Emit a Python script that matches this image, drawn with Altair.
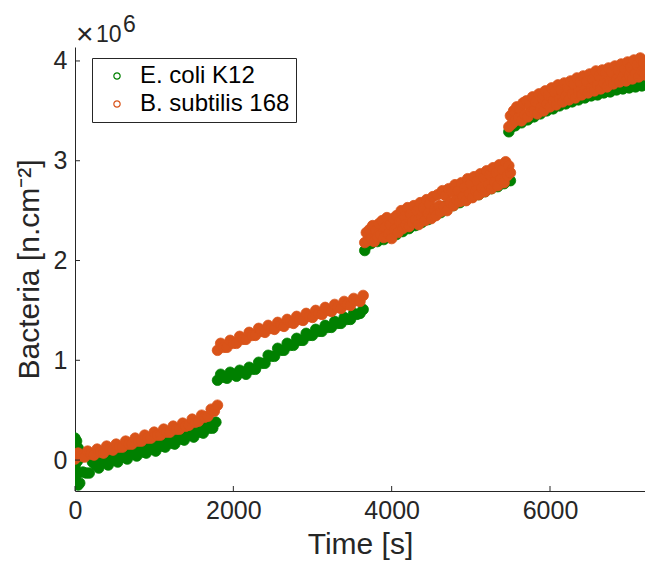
import altair as alt
import pandas as pd

# ---------------- data (values in units of 1e6 bacteria / cm^2) ----------------
SERIES = ["E. coli K12", "B. subtilis 168"]
COLORS = ["#008000", "#D95319"]

X_TICKS = [0, 2000, 4000, 6000]
Y_TICKS = [0, 1, 2, 3, 4]
X_DOMAIN = [0, 7200]
Y_DOMAIN = [-0.31, 4.14]

# E. coli: initial vertical spike near t = 0
ECOLI_SPIKE_T = [0, 0, 0, 0, 0, 20, 20, 20, 20, 20, 40, 40, 40, 40]
ECOLI_SPIKE_V = [0.22, 0.13, 0.04, -0.06, -0.15, 0.19, 0.09, -0.02, -0.12, -0.22, 0.12, 0.00, -0.13, -0.25]

# each segment: (start time [s], sampling step [s], values)
ECOLI_SEGMENTS = [
    (60, 40, [-0.23, -0.12, -0.13, -0.13, -0.02, -0.05, -0.08, 0.02, -0.02, -0.05,
              0.04, 0.00, -0.02, 0.07, 0.03, 0.01, 0.10, 0.06, 0.04, 0.12,
              0.08, 0.07, 0.15, 0.11, 0.09, 0.18, 0.14, 0.13, 0.21, 0.17,
              0.16, 0.25, 0.21, 0.20, 0.28, 0.25, 0.23, 0.32, 0.28, 0.27,
              0.36, 0.32, 0.32, 0.38]),
    (1800, 40, [0.80, 0.86, 0.83, 0.82, 0.88, 0.86, 0.84, 0.90, 0.88, 0.86,
                0.93, 0.91, 0.91, 0.98, 0.97, 0.97, 1.05, 1.04, 1.04, 1.12,
                1.10, 1.10, 1.17, 1.15, 1.15, 1.22, 1.20, 1.20, 1.27, 1.25,
                1.25, 1.31, 1.29, 1.29, 1.35, 1.33, 1.33, 1.39, 1.37, 1.37,
                1.43, 1.41, 1.41, 1.47, 1.46, 1.47, 1.51]),
    (3660, 40, [2.10, 2.16, 2.17, 2.22, 2.19, 2.24, 2.21, 2.26, 2.23, 2.29,
                2.26, 2.31, 2.29, 2.35, 2.32, 2.37, 2.35, 2.40, 2.38, 2.44,
                2.41, 2.47, 2.45, 2.51, 2.48, 2.54, 2.52, 2.57, 2.55, 2.60,
                2.58, 2.63, 2.61, 2.66, 2.64, 2.69, 2.66, 2.71, 2.69, 2.74,
                2.72, 2.76, 2.74, 2.79, 2.77, 2.81, 2.80]),
    (5480, 40, [3.29, 3.34, 3.35, 3.39, 3.38, 3.42, 3.41, 3.45, 3.44, 3.48,
                3.47, 3.51, 3.50, 3.54, 3.52, 3.56, 3.55, 3.59, 3.57, 3.61,
                3.59, 3.63, 3.61, 3.65, 3.63, 3.66, 3.65, 3.68, 3.66, 3.69,
                3.68, 3.71, 3.69, 3.72, 3.71, 3.73, 3.72, 3.75, 3.73, 3.76,
                3.74, 3.77, 3.75, 3.78]),
]

BSUB_SEGMENTS = [
    (0, 40, [0.01, 0.07, 0.04, 0.03, 0.09, 0.06, 0.05, 0.11, 0.08, 0.07,
             0.14, 0.11, 0.10, 0.16, 0.13, 0.13, 0.19, 0.16, 0.16, 0.22,
             0.19, 0.19, 0.25, 0.22, 0.22, 0.28, 0.25, 0.25, 0.31, 0.28,
             0.28, 0.34, 0.31, 0.31, 0.37, 0.34, 0.35, 0.41, 0.38, 0.39,
             0.45, 0.43, 0.44, 0.51, 0.49, 0.55]),
    (1800, 40, [1.10, 1.17, 1.13, 1.13, 1.20, 1.17, 1.17, 1.24, 1.21, 1.21,
                1.28, 1.25, 1.25, 1.32, 1.29, 1.28, 1.35, 1.32, 1.31, 1.38,
                1.35, 1.34, 1.41, 1.38, 1.37, 1.44, 1.41, 1.40, 1.47, 1.44,
                1.43, 1.50, 1.47, 1.46, 1.53, 1.50, 1.49, 1.56, 1.53, 1.52,
                1.59, 1.56, 1.55, 1.62, 1.60, 1.59, 1.65]),
    (3660, 20, [2.18, 2.28, 2.20, 2.31, 2.22, 2.35, 2.19, 2.30, 2.24, 2.37,
                2.26, 2.40, 2.23, 2.33, 2.43, 2.27, 2.36, 2.22, 2.42, 2.31,
                2.45, 2.28, 2.39, 2.50, 2.32, 2.44, 2.36, 2.53, 2.34, 2.47,
                2.38, 2.55, 2.41, 2.50, 2.36, 2.58, 2.44, 2.53, 2.40, 2.61,
                2.47, 2.57, 2.42, 2.64, 2.51, 2.45, 2.66, 2.55, 2.49, 2.70,
                2.54, 2.65, 2.50, 2.72, 2.58, 2.69, 2.55, 2.76, 2.61, 2.70,
                2.59, 2.78, 2.64, 2.73, 2.60, 2.82, 2.67, 2.77, 2.63, 2.84,
                2.70, 2.80, 2.66, 2.87, 2.73, 2.83, 2.69, 2.90, 2.76, 2.86,
                2.72, 2.93, 2.79, 2.88, 2.75, 2.96, 2.82, 2.91, 2.78, 2.99,
                2.85, 2.95, 2.88]),
    (5480, 20, [3.34, 3.45, 3.37, 3.50, 3.40, 3.54, 3.43, 3.52, 3.40, 3.58,
                3.46, 3.60, 3.44, 3.55, 3.49, 3.64, 3.50, 3.59, 3.47, 3.67,
                3.53, 3.63, 3.50, 3.70, 3.57, 3.66, 3.54, 3.73, 3.60, 3.69,
                3.56, 3.76, 3.62, 3.71, 3.59, 3.78, 3.65, 3.74, 3.61, 3.80,
                3.67, 3.77, 3.63, 3.83, 3.69, 3.79, 3.66, 3.85, 3.71, 3.80,
                3.68, 3.87, 3.73, 3.82, 3.70, 3.90, 3.76, 3.85, 3.72, 3.91,
                3.78, 3.88, 3.74, 3.93, 3.80, 3.89, 3.77, 3.95, 3.82, 3.91,
                3.79, 3.97, 3.84, 3.92, 3.80, 3.99, 3.86, 3.94, 3.82, 4.01,
                3.88, 3.96, 3.84, 4.03, 3.90, 3.98, 3.86]),
]

EXPONENT_PARTS = ["×", "10", "6"]

# ---------------- build table ----------------
rows = []
for t, v in zip(ECOLI_SPIKE_T, ECOLI_SPIKE_V):
    rows.append({"t": t, "v": v, "s": SERIES[0]})
for start, step, vals in ECOLI_SEGMENTS:
    for i, v in enumerate(vals):
        rows.append({"t": start + i * step, "v": v, "s": SERIES[0]})
for start, step, vals in BSUB_SEGMENTS:
    for i, v in enumerate(vals):
        rows.append({"t": start + i * step, "v": v, "s": SERIES[1]})
df = pd.DataFrame(rows)

FONT = "Liberation Sans"
TXT = "#262626"
W, H = 570, 444

x_enc = alt.X("t:Q", scale=alt.Scale(domain=X_DOMAIN, nice=False, zero=False),
              axis=alt.Axis(values=X_TICKS, title="Time [s]", format="d",
                            labelFlush=False, labelOverlap=False,
                            labelPadding=7, titlePadding=6))
y_enc = alt.Y("v:Q", scale=alt.Scale(domain=Y_DOMAIN, nice=False, zero=False),
              axis=alt.Axis(values=Y_TICKS, title="Bacteria [n.cm⁻²]", format="d",
                            labelFlush=False, labelOverlap=False,
                            labelPadding=8, titlePadding=9))

color_enc = alt.Color("s:N", scale=alt.Scale(domain=SERIES, range=COLORS),
                      legend=alt.Legend(title=None, orient="none", legendX=17, legendY=11,
                                        symbolType="circle", symbolSize=40,
                                        symbolStrokeWidth=1.2,
                                        labelFontSize=24, labelFont=FONT,
                                        labelColor="black", padding=6,
                                        symbolOffset=7, labelOffset=11, rowPadding=4,
                                        strokeColor="#262626", fillColor="white"))

layers = []
for name, col in zip(SERIES, COLORS):
    base = alt.Chart(df).transform_filter(alt.datum.s == name)
    layers.append(base.mark_point(filled=True, size=112, opacity=1, color=col,
                                  strokeWidth=0, clip=True).encode(x=x_enc, y=y_enc))
    layers.append(base.mark_point(filled=False, size=112, strokeWidth=0.8, opacity=1,
                                  clip=True).encode(x=x_enc, y=y_enc, color=color_enc))

xticks = alt.Chart(pd.DataFrame({"t": X_TICKS})).mark_rule(color=TXT, strokeWidth=1).encode(
    x=x_enc, y=alt.value(H), y2=alt.value(H - 5))
yticks = alt.Chart(pd.DataFrame({"v": Y_TICKS})).mark_rule(color=TXT, strokeWidth=1).encode(
    y=y_enc, x=alt.value(0), x2=alt.value(5))

exp_times = alt.Chart(pd.DataFrame({"s": [EXPONENT_PARTS[0]]})).mark_text(
    font=FONT, fontSize=30, color=TXT, align="left", baseline="alphabetic").encode(
    text="s:N", x=alt.value(1), y=alt.value(-3))
exp_base = alt.Chart(pd.DataFrame({"s": [EXPONENT_PARTS[1]]})).mark_text(
    font=FONT, fontSize=23, color=TXT, align="left", baseline="alphabetic").encode(
    text="s:N", x=alt.value(21), y=alt.value(-5))
exp_pow = alt.Chart(pd.DataFrame({"s": [EXPONENT_PARTS[2]]})).mark_text(
    font=FONT, fontSize=23, color=TXT, align="left", baseline="alphabetic").encode(
    text="s:N", x=alt.value(48), y=alt.value(-15))

chart = alt.layer(*layers, xticks, yticks, exp_times, exp_base, exp_pow).properties(
    width=W, height=H,
    padding={"left": 75, "top": 47, "right": 0, "bottom": 73},
    autosize=alt.AutoSizeParams(type="none"),
).configure_view(stroke=None).configure_axis(
    grid=False, ticks=False, tickSize=0, domainColor=TXT, domainWidth=1,
    labelFont=FONT, labelFontSize=25, labelColor=TXT,
    titleFont=FONT, titleFontSize=30, titleColor=TXT, titleFontWeight="normal",
)

chart.save("out.html", embed_options={"renderer": "svg", "actions": False})
